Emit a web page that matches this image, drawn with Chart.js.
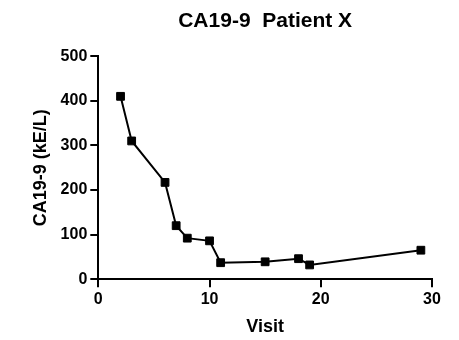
<!DOCTYPE html>
<html>
<head>
<meta charset="utf-8">
<script src="https://cdn.jsdelivr.net/npm/chart.js@4/dist/chart.umd.min.js"></script>
<style>
    html, body { margin: 0; padding: 0; background: #fff; }
    #wrap { width: 459px; height: 340px; }
</style>
</head>
<body>
<div id="wrap"><canvas id="ca199Chart"></canvas></div>
<script>
const visits = [2, 3, 6, 7, 8, 10, 11, 15, 18, 19, 29];
const ca199Values = [410, 310, 217, 120, 92, 86, 37, 39, 46, 32, 65];
const xTicks = [0, 10, 20, 30];
const yTicks = [0, 100, 200, 300, 400, 500];

document.addEventListener("DOMContentLoaded", () => {
    const ctx = document.getElementById("ca199Chart").getContext("2d");
    const font = "'Liberation Sans', Arial, sans-serif";

    const points = visits.map((v, i) => ({ x: v, y: ca199Values[i] }));

    const axisStyle = (ticks) => ({
        type: "linear",
        min: ticks[0],
        max: ticks[ticks.length - 1],
        afterBuildTicks: (axis) => {
            axis.ticks = ticks.map(v => ({ value: v }));
        },
        border: { color: "#000", width: 2 },
        grid: {
            drawOnChartArea: false,
            color: "#000",
            lineWidth: 2,
            tickLength: 8,
            tickColor: "#000"
        },
        ticks: {
            color: "#000",
            font: { family: font, size: 16, weight: "bold" },
            padding: 3
        }
    });

    const xScale = axisStyle(xTicks);
    xScale.title = {
        display: true,
        text: "Visit",
        color: "#000",
        font: { family: font, size: 18, weight: "bold" },
        padding: { top: 4, bottom: 0 }
    };

    const yScale = axisStyle(yTicks);
    yScale.title = {
        display: true,
        text: "CA19-9 (kE/L)",
        color: "#000",
        font: { family: font, size: 18, weight: "bold" },
        padding: { top: 0, bottom: 6 }
    };

    new Chart(ctx, {
        type: "scatter",
        data: {
            datasets: [
                {
                    label: "CA19-9",
                    data: points,
                    showLine: true,
                    borderColor: "#000",
                    backgroundColor: "#000",
                    borderWidth: 2,
                    pointStyle: "rect",
                    pointRadius: 5.5,
                    pointBorderWidth: 1,
                    pointHoverRadius: 5.5
                }
            ]
        },
        options: {
            responsive: true,
            maintainAspectRatio: false,
            animation: false,
            layout: { padding: { left: 30, right: 27, top: 9, bottom: 2 } },
            plugins: {
                legend: { display: false },
                tooltip: { enabled: false },
                title: {
                    display: true,
                    fullSize: false,
                    text: "CA19-9  Patient X",
                    color: "#000",
                    font: { family: font, size: 21, weight: "bold" },
                    padding: { top: 0, bottom: 22 }
                }
            },
            scales: { x: xScale, y: yScale }
        }
    });
});
</script>
</body>
</html>
